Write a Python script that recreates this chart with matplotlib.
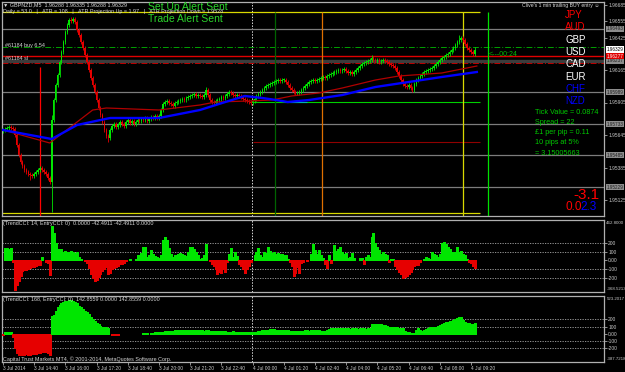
import matplotlib
matplotlib.use("Agg")
import matplotlib.pyplot as plt
import matplotlib.transforms as mtransforms
import numpy as np

plt.rcParams["font.family"] = ["Liberation Sans", "DejaVu Sans"]

W, H = 625, 372

# GBPNZD M5 bars from 3 Jul 13:20, prices in points above 1.95000 (1 point = 0.00001)
first_open = 677
closes = [
    685, 693, 701, 709, 701, 693, 645, 565, 485, 429,
    397, 365, 349, 333, 325, 317, 333, 349, 365, 381,
    365, 349, 333, 301, 269, 765, 925, 1045, 1125, 1229,
    1309, 1389, 1469, 1525, 1565, 1557, 1573, 1549, 1485, 1445,
    1389, 1341, 1285, 1229, 1165, 1101, 1045, 989, 925, 861,
    805, 749, 685, 637, 621, 685, 717, 733, 709, 725,
    749, 733, 717, 749, 765, 741, 757, 733, 749, 765,
    757, 773, 765, 781, 757, 773, 789, 781, 797, 781,
    797, 845, 893, 909, 917, 901, 893, 877, 901, 909,
    917, 925, 933, 925, 941, 949, 957, 965, 973, 957,
    965, 957, 949, 965, 1005, 965, 925, 909, 901, 917,
    925, 933, 949, 941, 957, 973, 989, 981, 965, 957,
    965, 957, 949, 933, 925, 917, 909, 901, 917, 933,
    957, 973, 989, 1005, 1021, 1037, 1045, 1053, 1061, 1069,
    1077, 1085, 1077, 1085, 1085, 1069, 1045, 1021, 1005, 989,
    981, 981, 989, 1005, 1021, 1037, 1053, 1069, 1077, 1085,
    1077, 1085, 1093, 1101, 1109, 1101, 1117, 1125, 1133, 1141,
    1149, 1157, 1165, 1157, 1165, 1173, 1157, 1141, 1149, 1133,
    1149, 1165, 1181, 1197, 1213, 1221, 1229, 1237, 1245, 1261,
    1245, 1237, 1245, 1229, 1237, 1245, 1237, 1229, 1213, 1205,
    1197, 1181, 1149, 1117, 1085, 1053, 1037, 1029, 1045, 1021,
    1005, 1053, 1085, 1101, 1117, 1133, 1149, 1157, 1165, 1173,
    1181, 1197, 1213, 1229, 1245, 1261, 1269, 1285, 1293, 1309,
    1325, 1341, 1365, 1389, 1405, 1421, 1405, 1373, 1341, 1325,
    1309, 1293, 1329,
]
# bars with long wicks (points)
long_highs = {25: 805, 35: 1589, 104: 1029, 117: 1005, 189: 1285, 234: 1445}
long_lows = {14: 285, 25: 29, 54: 589}
wick = 18

# moving averages (bar, points)
ma_blue_bar = [0, 25, 38, 50, 55, 80, 101, 114, 124, 133, 140, 146, 157, 174, 191, 208, 225, 243]
ma_blue_pts = [685, 613, 725, 765, 781, 781, 845, 909, 957, 941, 925, 909, 925, 965, 1029, 1069, 1109, 1149]
ma_red_bar = [0, 24, 38, 46, 53, 80, 101, 109, 126, 138, 148, 162, 174, 191, 203, 225, 243]
ma_red_pts = [685, 581, 749, 845, 861, 845, 885, 909, 917, 925, 957, 981, 1021, 1085, 1117, 1141, 1197]

cci14 = [
    10, 140, 140, 130, 140, -20, -340, -280, -230, -180,
    -120, -110, -110, -100, -90, -80, -80, -60, -55, -50,
    40, 10, -20, -25, -170, 400, 310, 200, 130, 120,
    130, 100, 110, 100, 100, 110, 100, 90, 100, 40,
    20, 0, -10, -30, -90, -160, -200, -230, -220, -190,
    -150, -120, -100, -80, -150, -140, -100, -90, -70, -60,
    -40, -40, -30, -10, 0, 20, 0, 0, 20, 60,
    40, 90, 150, 160, 40, 60, 120, 80, 50, 40,
    30, 60, 230, 270, 240, 140, 80, 40, 60, 40,
    70, 90, 70, 60, 50, 100, 160, 150, 130, 100,
    60, 20, 30, 60, 190, 0, -10, -40, -60, -100,
    -150, -130, -140, -100, -130, -20, 80, 140, 40, 100,
    50, -40, -60, -100, -140, -100, -60, -20, 0, 60,
    100, 140, 60, 40, 100, 90, 150, 110, 90, 100,
    80, 90, 70, 80, 60, 60, 20, -20, -60, -180,
    -140, -80, -140, -30, -20, 0, -10, 0, 80, 190,
    120, 80, 120, 60, 30, -40, -90, 60, -30, 0,
    180, 110, 130, 160, 100, 70, 90, 30, 40, 90,
    30, 5, 5, 30, 30, -40, 40, 60, 40, 275,
    310, 200, 150, 120, 80, 100, 80, 60, -20, 20,
    20, -60, -100, -130, -150, -200, -190, -180, -150, -130,
    -100, -60, -50, -50, -20, 0, 20, 45, 30, 20,
    100, 80, 60, 40, 80, 200, 210, 190, 150, 130,
    100, 80, 100, 150, 100, 110, 80, 60, 20, -20,
    -30, -60, -85,
]
cci168 = [
    -15, 20, 20, 20, 20, -40, -200, -260, -285, -290,
    -290, -285, -280, -285, -290, -280, -275, -280, -270, -265,
    -250, -245, -250, -260, -290, 250, 260, 310, 370, 400,
    420, 440, 450, 460, 465, 470, 460, 440, 420, 390,
    370, 340, 320, 300, 280, 240, 210, 180, 150, 130,
    110, 100, 100, 95, 80, 0, -10, -15, -10, -15,
    0, 0, 5, 0, -5, 5, -5, 0, 5, 5,
    0, -5, 10, 10, 10, 5, 15, 15, 20, 20,
    20, 20, 25, 40, 40, 45, 40, 45, 50, 55,
    55, 55, 60, 60, 55, 55, 60, 55, 55, 50,
    50, 50, 50, 45, 50, 50, 45, 45, 45, 40,
    40, 40, 35, 35, 35, 30, 30, 30, 35, 30,
    30, 25, 25, 25, 25, 20, 25, 20, 25, 30,
    30, 35, 40, 50, 55, 60, 60, 65, 65, 65,
    60, 60, 55, 55, 50, 50, 50, 45, 45, 45,
    40, 45, 40, 40, 45, 50, 50, 45, 50, 55,
    55, 55, 50, 45, 40, 45, 60, 70, 80, 85,
    85, 80, 80, 75, 75, 80, 75, 75, 70, 75,
    75, 75, 70, 75, 80, 75, 70, 75, 80, 130,
    135, 135, 130, 130, 130, 125, 120, 110, 100, 95,
    95, 90, 90, 85, 80, 80, 40, 30, 20, 15,
    10, 10, 60, 80, 60, 40, 60, 70, 75, 90,
    90, 95, 100, 110, 120, 140, 150, 160, 170, 180,
    185, 190, 210, 220, 230, 230, 190, 160, 150, 150,
    140, 135, 150,
]

time_labels = ["3 Jul 2014", "3 Jul 14:40", "3 Jul 16:00", "3 Jul 17:20", "3 Jul 18:40",
               "3 Jul 20:00", "3 Jul 21:20", "3 Jul 22:40", "4 Jul 00:00", "4 Jul 01:20",
               "4 Jul 02:40", "4 Jul 04:00", "4 Jul 05:20", "4 Jul 06:40", "4 Jul 08:00",
               "4 Jul 09:20"]

currencies = ["JPY", "AUD", "GBP", "USD", "CAD", "EUR", "CHF", "NZD"]
currency_colors = ["#ff0000", "#ff0000", "white", "white", "white", "white", "#0000ff", "#0000ff"]

info_lines = ["Tick Value = 0.0874", "Spread = 22", "\u00a31 per pip = 0.11",
              "10 pips at 5%", "= 3.15005663"]

# horizontal price objects (points)
gray_levels = [1493, 1237, 989, 733, 485, 229]
bid_level = 1329
red_level = 1277

GREEN = "#00e600"
RED = "#e60000"
GRID = "#a8a8a8"
XMAX = 308.2
YMIN, YMAX = -3, 1709


def to_price(p):
    return f"{1.95 + p / 1e5:.5f}"


def fpos(x, y):
    return x / W, 1 - y / H


def panel(top, bottom):
    return [2 / W, 1 - bottom / H, 602 / W, (bottom - top) / H]


fig = plt.figure(figsize=(W / 100, H / 100), dpi=100, facecolor="black")
ax = fig.add_axes(panel(2, 216))
ax2 = fig.add_axes(panel(220, 292))
ax3 = fig.add_axes(panel(296, 362))

for a in (ax, ax2, ax3):
    a.set_facecolor("black")
    a.set_xlim(-0.5, XMAX)
    for s in a.spines.values():
        s.set_color("#b0b0b0")
        s.set_linewidth(0.9)
    a.yaxis.tick_right()
    a.tick_params(axis="y", colors="#c8c8c8", labelsize=3.5, length=2, width=0.5, pad=1)
    a.tick_params(axis="x", bottom=False, labelbottom=False)
    a.axvline(127.7, color="#d8d8d8", lw=0.7, ls=(0, (1.5, 1.5)), zorder=1)

# ---- main price window
ax.set_ylim(YMIN, YMAX)
px_per_pt = 214 / (YMAX - YMIN)
boxed = gray_levels + [bid_level, red_level]
ticks = [t for t in (1685 - 130 * k for k in range(13))
         if min(abs(t - b) for b in boxed) * px_per_pt > 6]
ax.set_yticks(ticks, [to_price(t) for t in ticks])

for lvl in gray_levels:
    if lvl == 1237:
        ax.axhline(lvl, color="#3c3c3c", lw=2.4, zorder=1)
    else:
        ax.axhline(lvl, color="#7c7c7c", lw=0.9, zorder=1)
ax.axhline(1349, color="#00a000", lw=0.7, ls=(0, (6, 2, 1, 2)), zorder=1)
ax.axhline(red_level, color="#e00000", lw=1.0, zorder=1)
ax.axhline(1221, color="#c00000", lw=0.7, ls=(0, (6, 2, 1, 2)), zorder=1)

ax.hlines([1629, 21], -0.5, 244.6, color="#d8d800", lw=0.9, zorder=1)
ax.hlines(913, 128.2, 244.6, color="#00d000", lw=0.8, zorder=1)
ax.hlines(589, 128.2, 244.6, color="#900000", lw=0.8, zorder=1)
ax.hlines(909, 144.6, 155.9, color="#00b0b0", lw=0.8, zorder=1)
ax.vlines(235.9, YMIN, 1629, color="#d8d800", lw=0.9, zorder=1)
ax.vlines(248.7, YMIN, 1629, color="#00e000", lw=0.9, zorder=1)
ax.vlines(139.5, YMIN, 1629, color="#006400", lw=0.9, zorder=1)
ax.vlines(163.6, YMIN, 1629, color="#e07000", lw=0.9, zorder=1)
ax.vlines(19.0, YMIN, 1189, color="#ff0000", lw=0.9, zorder=1)

c = np.array(closes, float)
o = np.r_[first_open, c[:-1]]
hi = np.maximum(o, c) + wick
lo = np.minimum(o, c) - wick
for i, v in long_highs.items():
    hi[i] = v
for i, v in long_lows.items():
    lo[i] = v
cols = np.where(c >= o, GREEN, RED)
xb = np.arange(len(c))
ax.vlines(xb, lo, hi, colors=cols, lw=0.6, zorder=3)
ax.bar(xb, np.maximum(np.abs(c - o), 6), bottom=np.minimum(o, c), width=0.8,
       color=cols, lw=0, zorder=3)

ax.plot(ma_red_bar, ma_red_pts, color="#b00000", lw=0.9, zorder=4)
ax.plot(ma_blue_bar, ma_blue_pts, color="#0000ff", lw=1.7, zorder=4)

trans = mtransforms.blended_transform_factory(ax.transAxes, ax.transData)
box_style = dict(transform=trans, fontsize=3.3, va="center", ha="left", clip_on=False)
for lvl in gray_levels:
    ax.text(1.004, lvl, to_price(lvl), color="#202020", zorder=6,
            bbox=dict(fc="#8c8c8c", ec="none", pad=0.4), **box_style)
ax.text(1.004, bid_level, to_price(bid_level), color="black", zorder=7,
        bbox=dict(fc="white", ec="none", pad=0.4), **box_style)
ax.text(1.004, red_level, to_price(red_level), color="white", zorder=8,
        bbox=dict(fc="#e00000", ec="none", pad=0.4), **box_style)

# ---- CCI 14 window (histogram drawn as crisp 1px columns)
v14 = np.array(cci14, float)
x14 = np.arange(len(v14))
ax2.vlines(x14, 0, v14, colors=np.where(v14 >= 0, GREEN, RED), lw=0.75,
           antialiased=False, zorder=3)
ax2.set_ylim(-362, 465)

# ---- CCI 168 window
v168 = np.array(cci168, float)
x168 = np.arange(len(v168))
ax3.vlines(x168, 0, v168, colors=np.where(v168 >= 0, GREEN, RED), lw=0.75,
           antialiased=False, zorder=3)
ax3.set_ylim(-387.7, 523.2)

for a, top, bottom in ((ax2, "462.8000", "-368.5213"), (ax3, "523.2017", "-387.7218")):
    for lv in (200, 100, -100, -200):
        a.axhline(lv, color=GRID, lw=0.6, ls=(0, (1.5, 1.5)), zorder=1)
    a.set_yticks([200, 100, 0, -100, -200], ["200", "100", "0.00", "-100", "-200"])
    a.text(1.004, 0.985, top, transform=a.transAxes, fontsize=3.2, color="#c8c8c8",
           va="top", ha="left", clip_on=False)
    a.text(1.004, 0.015, bottom, transform=a.transAxes, fontsize=3.2, color="#c8c8c8",
           va="bottom", ha="left", clip_on=False)

tick_pos = list(range(0, 16 * len(time_labels), 16))
ax3.set_xticks(tick_pos, time_labels)
ax3.tick_params(axis="x", bottom=True, labelbottom=True, colors="#c8c8c8",
                labelsize=3.5, length=2, width=0.5, pad=1)
for lab in ax3.get_xticklabels():
    lab.set_horizontalalignment("left")

# ---- texts
small = dict(fontsize=3.9, color="#d8d8d8", va="center", ha="left")
fig.text(*fpos(3, 4.5), "\u25bc GBPNZD,M5  1.96288 1.96335 1.96288 1.96329", **small)
fig.text(*fpos(3, 11.5), "Daily = 53.0   |   ATR = 108   |   ATR Projection Up = 1.97   |   "
         "ATR Projection Down = 1.9528", **small)
fig.text(*fpos(5, 45), "#61184 buy 6.54", **small)
fig.text(*fpos(5, 59), "#61184 sl", **small)
fig.text(*fpos(3, 224), "(TrendCCI: 14, EntryCCI: 0)  0.0000 -42.4911 -42.4911 0.0000", **small)
fig.text(*fpos(3, 299.5), "(TrendCCI: 168, EntryCCI: 0)  142.8559 0.0000 142.8559 0.0000", **small)
fig.text(*fpos(3, 359), "Capital Trust Markets MT4, \u00a9 2001-2014, MetaQuotes Software Corp.", **small)
fig.text(*fpos(599, 5.5), "Clive's 1 min trailing BUY entry \u263a", fontsize=3.7,
         color="#d8d8d8", va="center", ha="right")

fig.text(*fpos(148, 6.5), "Set Up Alert Sent", fontsize=7.5, color="#2bd62b", va="center", ha="left")
fig.text(*fpos(148, 18.5), "Trade Alert Sent", fontsize=7.5, color="#2bd62b", va="center", ha="left")
fig.text(*fpos(489, 54.5), "<---00:24", fontsize=5, color="#00c000", va="center", ha="left")

for k, (name, col) in enumerate(zip(currencies, currency_colors)):
    fig.text(*fpos(565, 15 + 12.3 * k), name, fontsize=7, color=col, va="center", ha="left")
for k, line in enumerate(info_lines):
    fig.text(*fpos(535, 113 + 10 * k), line, fontsize=5.2, color="#00c800", va="center", ha="left")

fig.text(*fpos(573, 195), "-3.1", fontsize=11, color="#ff0000", va="center", ha="left")
fig.text(*fpos(565, 207.5), "0.0", fontsize=8.5, color="#ff0000", va="center", ha="left")
fig.text(*fpos(580, 207.5), "2.3", fontsize=8.5, color="#0000ff", va="center", ha="left")

fig.savefig("out.png", dpi=100, facecolor="black")
